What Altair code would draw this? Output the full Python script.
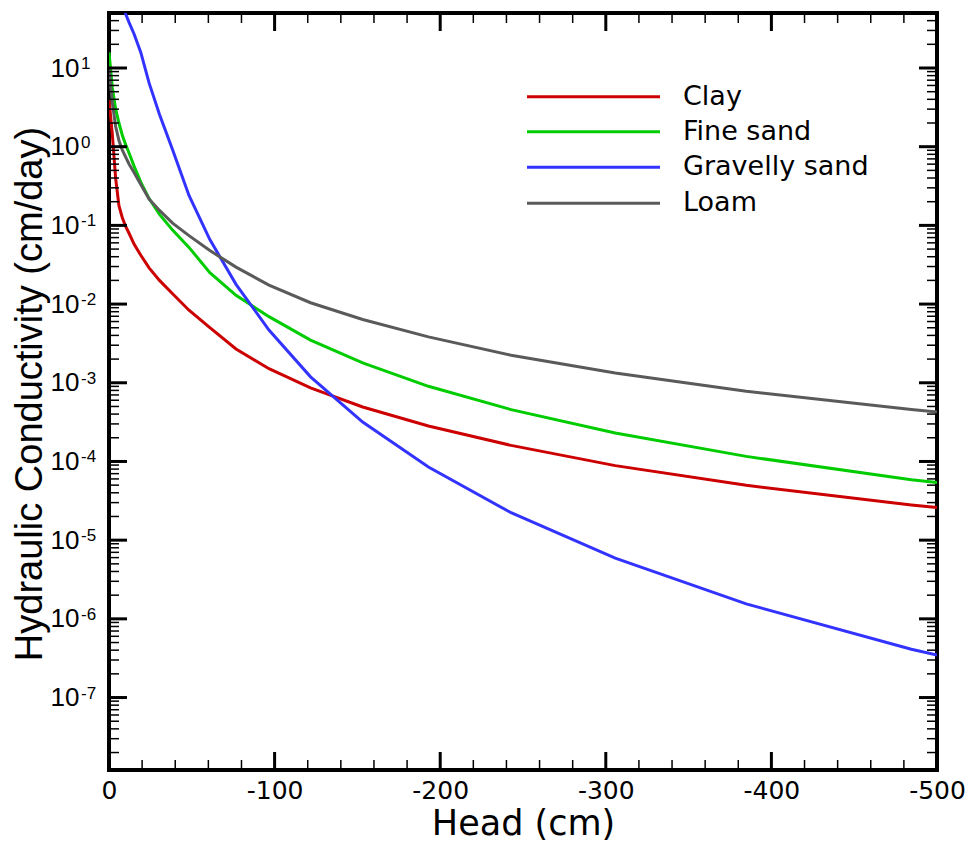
import altair as alt
import pandas as pd

# ---------------- data ----------------
head = [0, -2, -4, -6, -8, -10, -12.1, -15.2, -19.2, -24.2, -30.5, -38.4, -48.3,
        -60.9, -76.7, -96.6, -121.7, -153.2, -192.9, -242.8, -305.7, -384.8, -484.5, -500]

clay = [3.98, 1.445, 0.398, 0.178, 0.126, 0.0977, 0.0794, 0.0575, 0.0417, 0.0288,
        0.0200, 0.0135, 8.36e-3, 5.01e-3, 2.69e-3, 1.51e-3, 8.59e-4, 4.92e-4, 2.82e-4,
        1.60e-4, 8.85e-5, 4.97e-5, 2.79e-5, 2.59e-5]

fine_sand = [15.8, 5.62, 3.02, 2.00, 1.41, 1.07, 0.832, 0.562, 0.355, 0.219, 0.138,
             0.0871, 0.0525, 0.0251, 0.0129, 6.92e-3, 3.48e-3, 1.79e-3, 9.02e-4,
             4.56e-4, 2.30e-4, 1.16e-4, 5.86e-5, 5.40e-5]

gravelly_sand = [398, 251, 158, 100, 66.1, 49.0, 38.0, 26.9, 15.8, 6.46, 2.57, 0.912,
                 0.240, 0.0661, 0.0178, 4.68e-3, 1.19e-3, 3.17e-4, 8.49e-5, 2.23e-5,
                 5.90e-6, 1.55e-6, 4.10e-7, 3.48e-7]

loam = [10.0, 3.63, 1.82, 1.20, 0.912, 0.741, 0.603, 0.468, 0.331, 0.216, 0.155,
        0.107, 0.0741, 0.0479, 0.0295, 0.0174, 0.0104, 6.37e-3, 3.83e-3, 2.24e-3,
        1.33e-3, 7.80e-4, 4.57e-4, 4.25e-4]

series_names = ["Clay", "Fine sand", "Gravelly sand", "Loam"]
series_values = [clay, fine_sand, gravelly_sand, loam]
series_colors = ["#CC0000", "#00CC00", "#3333FF", "#5A5A5A"]

x_major = [0, -100, -200, -300, -400, -500]
x_minor = [-20, -40, -60, -80, -120, -140, -160, -180, -220, -240, -260, -280,
           -320, -340, -360, -380, -420, -440, -460, -480]
y_major = [1e1, 1e0, 1e-1, 1e-2, 1e-3, 1e-4, 1e-5, 1e-6, 1e-7]
y_exponents = ["1", "0", "-1", "-2", "-3", "-4", "-5", "-6", "-7"]
y_lo, y_hi = 1.2e-8, 50
y_minor = [m * 10.0 ** k for k in range(-8, 2) for m in range(2, 10)
           if y_lo <= m * 10.0 ** k <= y_hi]

# ---------------- tables ----------------
rows = []
for name, vals in zip(series_names, series_values):
    for h, k in zip(head, vals):
        rows.append({"head": h, "K": k, "soil": name})
df = pd.DataFrame(rows)

FONT = "Liberation Sans"
WIDE = "DejaVu Sans"
W, H = 828, 757
MAJ, MIN = 18, 10

xscale = alt.Scale(domain=[-500, 0], reverse=True, nice=False, zero=False)
yscale = alt.Scale(type="log", domain=[y_lo, y_hi], nice=False)

xaxis = alt.Axis(values=x_major, labelExpr="toString(datum.value)",
                 title="Head (cm)", ticks=False, domain=False, grid=False,
                 labelFont=WIDE, labelFontSize=25, labelPadding=8,
                 labelFlush=False, labelColor="black",
                 titleFont=WIDE, titleFontSize=35, titleFontWeight="normal",
                 titleColor="black", titleX=W / 2, titleY=64,
                 titleBaseline="alphabetic")
yaxis = alt.Axis(values=y_major, labelExpr="'10'",
                 title="Hydraulic Conductivity (cm/day)", ticks=False,
                 domain=False, grid=False, labelFont=FONT, labelFontSize=26,
                 labelPadding=30, labelColor="black", labelOverlap=False,
                 titleFont=FONT, titleFontSize=38, titleFontWeight="normal",
                 titleColor="black", titleX=-68, titleY=H / 2 + 2,
                 titleBaseline="alphabetic")


def X(field):
    return alt.X(field, scale=xscale, axis=xaxis)


def Y(field):
    return alt.Y(field, scale=yscale, axis=yaxis)


lines = alt.Chart(df).mark_line(clip=True, strokeWidth=3).encode(
    x=X("head:Q"),
    y=Y("K:Q"),
    color=alt.Color("soil:N", scale=alt.Scale(domain=series_names, range=series_colors),
                    legend=None),
)

exp_df = pd.DataFrame({"v": y_major, "e": y_exponents})
exps = alt.Chart(exp_df).mark_text(align="left", baseline="top", fontSize=17,
                                   font=FONT, color="black", dy=-12).encode(
    x=alt.value(-28),
    y=Y("v:Q"),
    text="e:N",
)

xmaj_df = pd.DataFrame({"head": x_major})
xmin_df = pd.DataFrame({"head": x_minor})
ymaj_df = pd.DataFrame({"v": y_major})
ymin_df = pd.DataFrame({"v": y_minor})


def xticks(data, length, width):
    base = alt.Chart(data).mark_rule(color="black", strokeWidth=width)
    bottom = base.encode(x=X("head:Q"), y=alt.value(H), y2=alt.value(H - length))
    top = base.encode(x=X("head:Q"), y=alt.value(0), y2=alt.value(length))
    return [bottom, top]


def yticks(data, length, width):
    base = alt.Chart(data).mark_rule(color="black", strokeWidth=width)
    left = base.encode(y=Y("v:Q"), x=alt.value(0), x2=alt.value(length))
    right = base.encode(y=Y("v:Q"), x=alt.value(W), x2=alt.value(W - length))
    return [left, right]


tick_layers = (xticks(xmaj_df, MAJ, 3) + xticks(xmin_df, MIN, 1.5) +
               yticks(ymaj_df, MAJ, 3) + yticks(ymin_df, MIN, 1.5))

# ---------------- legend (drawn as marks) ----------------
leg_rows_y = [83.7, 118.7, 154.3, 190.3]
legend_layers = []
for name, col, yy in zip(series_names, series_colors, leg_rows_y):
    ld = pd.DataFrame({"s": [name]})
    legend_layers.append(
        alt.Chart(ld).mark_rule(color=col, strokeWidth=3).encode(
            x=alt.value(418), x2=alt.value(551), y=alt.value(yy)))
    legend_layers.append(
        alt.Chart(ld).mark_text(align="left", baseline="middle", fontSize=27,
                                font=WIDE, color="black").encode(
            x=alt.value(574), y=alt.value(yy), text="s:N"))

chart = alt.layer(lines, exps, *tick_layers, *legend_layers).properties(
    width=W, height=H,
    autosize=alt.AutoSizeParams(type="none"),
    padding={"left": 101, "top": 5, "right": 28, "bottom": 75},
    background="white",
).configure_view(stroke="black", strokeWidth=4)

chart.save("out.html", embed_options={"renderer": "svg", "actions": False})
